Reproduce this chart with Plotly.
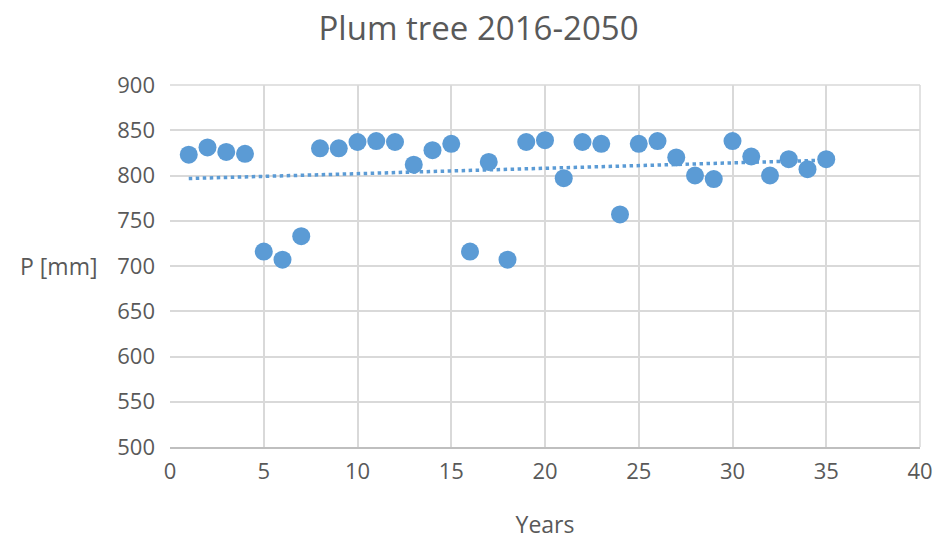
import numpy as np
import plotly.graph_objects as go

years = list(range(1, 36))
precip = [823, 831, 826, 824, 716, 707, 733, 830, 830, 837,
          838, 837, 812, 828, 835, 716, 815, 707, 837, 839,
          797, 837, 835, 757, 835, 838, 820, 800, 796, 838,
          821, 800, 818, 807, 818]

title = "Plum tree 2016-2050"
x_title = "Years"
y_title = "P [mm]"

coef = np.polyfit(years, precip, 1)
trend_x = [years[0], years[-1]]
trend_y = [coef[0] * x + coef[1] for x in trend_x]

color = "#5B9BD5"
font = "Open Sans"
gray = "#595959"

fig = go.Figure()
fig.add_trace(go.Scatter(x=trend_x, y=trend_y, mode="lines",
                         line=dict(color=color, width=3.5, dash="dot"),
                         hoverinfo="skip", showlegend=False))
fig.add_trace(go.Scatter(x=years, y=precip, mode="markers",
                         marker=dict(color=color, size=18),
                         showlegend=False))

fig.update_layout(
    width=941, height=542,
    paper_bgcolor="white", plot_bgcolor="white",
    margin=dict(l=162, r=29, t=77, b=103, autoexpand=False),
    font=dict(family=font, color=gray),
    title=dict(text=title, x=0.5, xanchor="center", y=0.962, yanchor="middle",
               font=dict(size=33, color=gray, family=font)),
    xaxis=dict(range=[0, 40], dtick=5, tick0=0, showgrid=True, gridcolor="#d9d9d9",
               gridwidth=1.5, zeroline=False, showline=True, linecolor="#bfbfbf",
               linewidth=1.5, ticks="", tickfont=dict(size=22, color=gray),
               ticklabelstandoff=4,
               title=dict(text=x_title, font=dict(size=23, color=gray), standoff=33),
               mirror=False),
    yaxis=dict(range=[500, 900], dtick=50, showgrid=True, gridcolor="#d9d9d9",
               gridwidth=1.5, zeroline=False, showline=False, ticks="",
               tickfont=dict(size=22, color=gray), ticklabelstandoff=14),
    annotations=[dict(text=y_title, x=-0.203, xref="paper", xanchor="left",
                      y=0.5, yref="paper", yanchor="middle", showarrow=False,
                      font=dict(size=23, color=gray))],
)
fig.add_shape(type="line", xref="paper", yref="paper", x0=0, x1=1, y0=1, y1=1,
              line=dict(color="#d9d9d9", width=1.5))
fig.add_shape(type="line", xref="paper", yref="paper", x0=1, x1=1, y0=0, y1=1,
              line=dict(color="#d9d9d9", width=1.5))
fig.write_html("out.html")
